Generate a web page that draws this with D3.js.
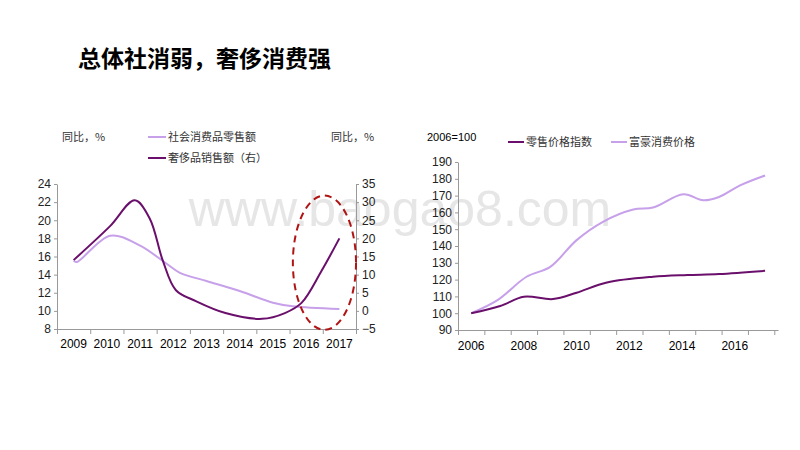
<!DOCTYPE html>
<html><head><meta charset="utf-8">
<script src="https://cdn.jsdelivr.net/npm/d3@7"></script>
<style>
body{margin:0;background:#fff;}
svg{font-family:"Liberation Sans","Noto Sans CJK SC",sans-serif;}
.axis path,.axis line{stroke:#999;}
.axis text{font-size:12px;fill:#222;}
.cn{font-family:"Noto Sans CJK SC",sans-serif;font-size:11px;fill:#333;}
</style></head>
<body><svg id="c" width="800" height="450"></svg>
<script>
const DARK = "#6a0f6b", LIGHT = "#c7a0ea";

// left chart: 社会消费品零售额 (left axis), 奢侈品销售额 (right axis)
const leftYears = [2009, 2010, 2011, 2012, 2013, 2014, 2015, 2016, 2017];
const retailSales = [[2009,15.5],[2009.1,15.4],[2010.1,18.3],[2011,17.2],[2011.8,15.2],[2012.2,14.2],[2013,13.3],[2014,12.2],[2015,10.9],[2015.6,10.5],[2017,10.2]];
const luxurySales = [[2009,14],[2010.09,23.3],[2010.84,30.5],[2011.29,25.5],[2011.68,14],[2012.08,5.7],[2012.68,2.7],[2013.57,-0.6],[2014.67,-2.2],[2015.36,-0.6],[2015.86,2.2],[2016.46,11],[2017,20]];
const leftTicks = [8, 10, 12, 14, 16, 18, 20, 22, 24];
const rightTicks = [-5, 0, 5, 10, 15, 20, 25, 30, 35];

// right chart: 零售价格指数, 富豪消费价格 (2006=100)
const rightYears = [2006, 2008, 2010, 2012, 2014, 2016];
const retailPrice = [[2006,100],[2007.1,104.3],[2008,109.8],[2009.1,108.4],[2010,112.2],[2011.15,118.3],[2012.9,121.7],[2014.2,122.7],[2015.4,123.3],[2017.15,125.2]];
const richPrice = [[2006,100],[2007,107.8],[2008.1,121.7],[2009,127.6],[2010,143.5],[2011,154.4],[2012.15,161.7],[2012.9,162.9],[2014.05,170.8],[2014.8,167.2],[2015.4,169.2],[2016.2,176.1],[2017.15,182]];
const priceTicks = [90, 100, 110, 120, 130, 140, 150, 160, 170, 180, 190];

const svg = d3.select("#c");

svg.append("text").attr("x", 400).attr("y", 226).attr("text-anchor", "middle")
  .attr("font-size", 50).attr("fill", "#e6e6e6").attr("font-family", "Liberation Sans")
  .text("www.baogao8.com");

svg.append("text").attr("x", 78).attr("y", 67)
  .attr("font-family", "Noto Sans CJK SC").attr("font-weight", "bold").attr("font-size", 23)
  .text("总体社消弱，奢侈消费强");

// ---- left chart
const x1 = d3.scaleLinear().domain([2008.5, 2017.5]).range([57, 356]);
const yL = d3.scaleLinear().domain([8, 24]).range([329, 184]);
const yR = d3.scaleLinear().domain([-5, 35]).range([329, 184]);

svg.append("g").attr("class", "axis").attr("transform", "translate(0,329)")
  .call(d3.axisBottom(x1).tickValues(d3.range(2008.5, 2018, 1)).tickSize(5).tickFormat(""));
svg.append("g").selectAll("text").data(leftYears).join("text")
  .attr("x", d => x1(d)).attr("y", 348).attr("text-anchor", "middle")
  .attr("font-size", 12).text(d => d);

svg.append("g").attr("class", "axis").attr("transform", "translate(57,0)")
  .call(d3.axisLeft(yL).tickValues(leftTicks).tickSize(3).tickSizeOuter(0));
svg.append("g").attr("class", "axis").attr("transform", "translate(356,0)")
  .call(d3.axisRight(yR).tickValues(rightTicks).tickSize(3).tickSizeOuter(0));

const curve = d3.curveCatmullRom.alpha(0.5);
svg.append("path").datum(retailSales).attr("fill", "none").attr("stroke", LIGHT).attr("stroke-width", 2)
  .attr("d", d3.line().x(d => x1(d[0])).y(d => yL(d[1])).curve(curve));
svg.append("path").datum(luxurySales).attr("fill", "none").attr("stroke", DARK).attr("stroke-width", 2)
  .attr("d", d3.line().x(d => x1(d[0])).y(d => yR(d[1])).curve(curve));

svg.append("ellipse").attr("cx", x1(2016.55)).attr("cy", yR(13.3))
  .attr("rx", x1(2016.55) - x1(2015.6)).attr("ry", yR(-5.2) - yR(13.3))
  .attr("fill", "none").attr("stroke", "#b01515").attr("stroke-width", 2).attr("stroke-dasharray", "7,5");

svg.append("text").attr("class", "cn").attr("x", 62).attr("y", 141).text("同比，%");
svg.append("text").attr("class", "cn").attr("x", 331).attr("y", 141).text("同比，%");
svg.append("line").attr("x1", 148).attr("x2", 166).attr("y1", 137).attr("y2", 137).attr("stroke", LIGHT).attr("stroke-width", 2);
svg.append("text").attr("class", "cn").attr("x", 168).attr("y", 141).text("社会消费品零售额");
svg.append("line").attr("x1", 148).attr("x2", 166).attr("y1", 158).attr("y2", 158).attr("stroke", DARK).attr("stroke-width", 2);
svg.append("text").attr("class", "cn").attr("x", 168).attr("y", 162).text("奢侈品销售额（右）");

// ---- right chart
const x2 = d3.scaleLinear().domain([2005.5, 2017.64]).range([458, 778]);
const y2 = d3.scaleLinear().domain([90, 190]).range([330, 162]);

svg.append("g").attr("class", "axis").attr("transform", "translate(0,330)")
  .call(d3.axisBottom(x2).tickValues(d3.range(2005.5, 2017.6, 1)).tickSize(5).tickSizeOuter(0).tickFormat(""));
svg.append("g").selectAll("text").data(rightYears).join("text")
  .attr("x", d => x2(d)).attr("y", 350).attr("text-anchor", "middle")
  .attr("font-size", 12).text(d => d);
svg.append("g").attr("class", "axis").attr("transform", "translate(458,0)")
  .call(d3.axisLeft(y2).tickValues(priceTicks).tickSize(3).tickSizeOuter(0));

svg.append("path").datum(richPrice).attr("fill", "none").attr("stroke", LIGHT).attr("stroke-width", 2)
  .attr("d", d3.line().x(d => x2(d[0])).y(d => y2(d[1])).curve(curve));
svg.append("path").datum(retailPrice).attr("fill", "none").attr("stroke", DARK).attr("stroke-width", 2)
  .attr("d", d3.line().x(d => x2(d[0])).y(d => y2(d[1])).curve(curve));

svg.append("text").attr("x", 427).attr("y", 141).attr("font-size", 11).text("2006=100");
svg.append("line").attr("x1", 508).attr("x2", 524).attr("y1", 142).attr("y2", 142).attr("stroke", DARK).attr("stroke-width", 2);
svg.append("text").attr("class", "cn").attr("x", 526).attr("y", 146).text("零售价格指数");
svg.append("line").attr("x1", 611).attr("x2", 627).attr("y1", 142).attr("y2", 142).attr("stroke", LIGHT).attr("stroke-width", 2);
svg.append("text").attr("class", "cn").attr("x", 629).attr("y", 146).text("富豪消费价格");
</script></body></html>
